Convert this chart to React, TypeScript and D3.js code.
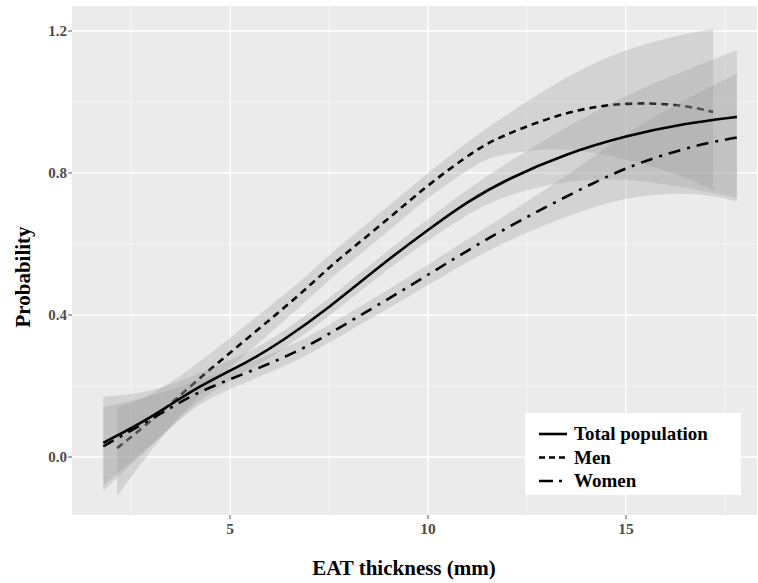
import React from "react";
import * as d3 from "d3";

const totalX = [1.8, 3.0, 4.2, 5.5, 6.3, 7.5, 8.8, 10.0, 11.0, 12.0, 13.5, 15.0, 16.5, 17.8];
const totalY = [0.04, 0.11, 0.2, 0.27, 0.325, 0.42, 0.54, 0.64, 0.72, 0.783, 0.855, 0.905, 0.94, 0.958];
const totalLo = [-0.095, 0.03, 0.165, 0.245, 0.3, 0.395, 0.515, 0.61, 0.685, 0.74, 0.78, 0.785, 0.76, 0.73];
const totalHi = [0.17, 0.18, 0.235, 0.295, 0.35, 0.445, 0.565, 0.67, 0.755, 0.83, 0.93, 1.02, 1.09, 1.146];

const menX = [2.15, 3.0, 4.1, 5.5, 6.8, 7.6, 8.5, 9.3, 10.1, 11.2, 11.8, 13.5, 15.0, 16.4, 17.2];
const menY = [0.025, 0.1, 0.21, 0.34, 0.46, 0.545, 0.625, 0.7, 0.775, 0.865, 0.902, 0.975, 1.0, 0.993, 0.972];
const menLo = [-0.11, 0.02, 0.165, 0.3, 0.425, 0.51, 0.59, 0.665, 0.74, 0.825, 0.855, 0.875, 0.84, 0.795, 0.752];
const menHi = [0.14, 0.17, 0.255, 0.38, 0.495, 0.58, 0.66, 0.735, 0.81, 0.905, 0.95, 1.075, 1.15, 1.19, 1.205];

const womenX = [1.8, 3.3, 4.2, 5.5, 6.8, 8.0, 9.3, 10.5, 11.8, 13.5, 15.2, 16.9, 17.8];
const womenY = [0.03, 0.125, 0.185, 0.24, 0.3, 0.38, 0.465, 0.548, 0.635, 0.735, 0.828, 0.882, 0.9];
const womenLo = [-0.08, 0.06, 0.155, 0.215, 0.275, 0.355, 0.438, 0.518, 0.6, 0.68, 0.74, 0.745, 0.72];
const womenHi = [0.14, 0.18, 0.215, 0.265, 0.325, 0.405, 0.492, 0.578, 0.67, 0.79, 0.93, 1.03, 1.08];

const xMajor = [5, 10, 15];
const xMinor = [2.5, 7.5, 12.5, 17.5];
const yMajor = [0, 0.4, 0.8, 1.2];
const yMinor = [0.2, 0.6, 1.0];
const yLabels = ["0.0", "0.4", "0.8", "1.2"];

const legendLabels = ["Total population", "Men", "Women"];

const W = 758, H = 583;
const P = { left: 72, top: 6, right: 757, bottom: 515 };

export default function App() {
  const x = d3.scaleLinear().domain([5, 15]).range([230, 626]);
  const y = d3.scaleLinear().domain([0, 1.2]).range([457, 31]);

  const series = [
    { xs: totalX, ys: totalY, lo: totalLo, hi: totalHi, dash: "none", legendDash: "none" },
    { xs: menX, ys: menY, lo: menLo, hi: menHi, dash: "7,5", legendDash: "6,4" },
    { xs: womenX, ys: womenY, lo: womenLo, hi: womenHi, dash: "12,7,3,7", legendDash: "14,6,3,20" },
  ];

  const line = d3
    .line<[number, number]>()
    .x((d) => x(d[0]))
    .y((d) => y(d[1]))
    .curve(d3.curveBasis);

  const area = d3
    .area<[number, number, number]>()
    .x((d) => x(d[0]))
    .y0((d) => y(d[1]))
    .y1((d) => y(d[2]))
    .curve(d3.curveBasis);

  const font = "'Liberation Serif', 'Times New Roman', serif";
  const legY = [434, 457.5, 481];

  const band = (s: typeof series[number], k: string) => (
    <path
      key={k}
      d={area(s.xs.map((v, j) => [v, s.lo[j], s.hi[j]] as [number, number, number])) || ""}
      fill="#9a9a9a"
      fillOpacity={0.3}
    />
  );
  const curve = (s: typeof series[number], k: string) => (
    <path
      key={k}
      d={line(s.xs.map((v, j) => [v, s.ys[j]] as [number, number])) || ""}
      fill="none"
      stroke="#000"
      strokeWidth={2.6}
      strokeDasharray={s.dash}
    />
  );

  return (
    <svg width={W} height={H} style={{ position: "absolute", left: 0, top: 0, background: "#fff" }}>
      <defs>
        <clipPath id="panel">
          <rect x={P.left} y={P.top} width={P.right - P.left} height={P.bottom - P.top} />
        </clipPath>
      </defs>
      <rect x={P.left} y={P.top} width={P.right - P.left} height={P.bottom - P.top} fill="#ebebeb" />
      <g clipPath="url(#panel)">
        {xMinor.map((v) => (
          <line key={"xm" + v} x1={x(v)} x2={x(v)} y1={P.top} y2={P.bottom} stroke="#f7f7f7" strokeWidth={0.8} />
        ))}
        {yMinor.map((v) => (
          <line key={"ym" + v} y1={y(v)} y2={y(v)} x1={P.left} x2={P.right} stroke="#f7f7f7" strokeWidth={0.8} />
        ))}
        {xMajor.map((v) => (
          <line key={"xM" + v} x1={x(v)} x2={x(v)} y1={P.top} y2={P.bottom} stroke="#fff" strokeWidth={1.3} />
        ))}
        {yMajor.map((v) => (
          <line key={"yM" + v} y1={y(v)} y2={y(v)} x1={P.left} x2={P.right} stroke="#fff" strokeWidth={1.3} />
        ))}
        {band(series[1], "b1")}
        {curve(series[1], "c1")}
        {band(series[0], "b0")}
        {band(series[2], "b2")}
        {curve(series[0], "c0")}
        {curve(series[2], "c2")}
      </g>

      {yMajor.map((v, i) => (
        <g key={"yt" + v}>
          <line x1={P.left - 4} x2={P.left} y1={y(v)} y2={y(v)} stroke="#555" strokeWidth={1} />
          <text
            x={P.left - 5}
            y={y(v)}
            dy="0.35em"
            textAnchor="end"
            fontFamily={font}
            fontWeight="bold"
            fontSize={15}
            fill="#4d4d4d"
          >
            {yLabels[i]}
          </text>
        </g>
      ))}
      {xMajor.map((v) => (
        <g key={"xt" + v}>
          <line x1={x(v)} x2={x(v)} y1={P.bottom} y2={P.bottom + 4} stroke="#555" strokeWidth={1} />
          <text
            x={x(v)}
            y={P.bottom + 19}
            textAnchor="middle"
            fontFamily={font}
            fontWeight="bold"
            fontSize={15.5}
            fill="#4d4d4d"
          >
            {v}
          </text>
        </g>
      ))}

      <text x={404} y={575} textAnchor="middle" fontFamily={font} fontWeight="bold" fontSize={21} fill="#000">
        EAT thickness (mm)
      </text>
      <text
        transform={`translate(30, 277) rotate(-90)`}
        textAnchor="middle"
        fontFamily={font}
        fontWeight="bold"
        fontSize={21}
        fill="#000"
      >
        Probability
      </text>

      <rect x={525} y={413} width={216} height={82} fill="#fff" />
      {series.map((s, i) => (
        <g key={"leg" + i}>
          <line
            x1={539}
            x2={567}
            y1={legY[i]}
            y2={legY[i]}
            stroke="#000"
            strokeWidth={2.6}
            strokeDasharray={s.legendDash}
          />
          <text
            x={574}
            y={legY[i]}
            dy="0.33em"
            fontFamily={font}
            fontWeight="bold"
            fontSize={19}
            fill="#000"
          >
            {legendLabels[i]}
          </text>
        </g>
      ))}
    </svg>
  );
}
